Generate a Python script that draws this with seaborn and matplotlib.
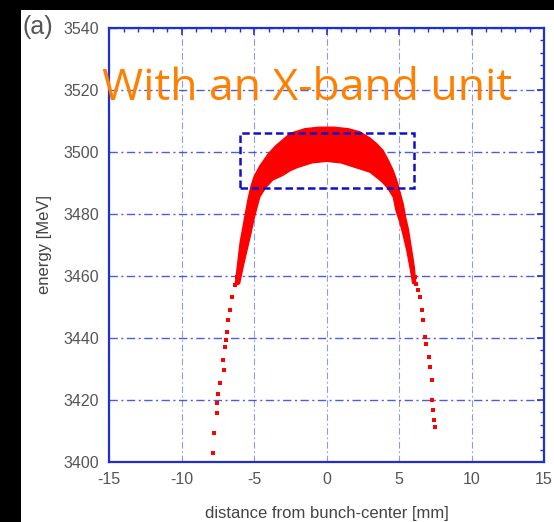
import numpy as np
import matplotlib
matplotlib.use("Agg")
import matplotlib.pyplot as plt
import seaborn as sns
import pandas as pd
from matplotlib.patches import Rectangle

# dense core of the bunch (outline), outer edge left -> right
core_outer_x = [-6.30, -6.15, -6.05, -5.95, -5.75, -5.60, -5.40, -5.20, -5.00, -4.60, -4.00, -3.50,
                -2.50, -1.50, -0.50, 0.50, 1.50, 2.30, 3.00, 3.50, 3.90, 4.30, 4.60, 4.90, 5.10,
                5.30, 5.45, 5.65, 5.85, 6.05, 6.15]
core_outer_e = [3457, 3463, 3467, 3471, 3476, 3480, 3485, 3489, 3492, 3495.5, 3499.5, 3502,
                3506, 3507.5, 3508, 3508, 3507.5, 3506.5, 3504.5, 3502.5, 3500.5, 3497, 3494, 3490, 3486.5,
                3483, 3479, 3475, 3469, 3463, 3458]
# inner edge right -> left
core_inner_x = [5.95, 5.75, 5.55, 5.30, 5.05, 4.80, 4.60, 4.20, 3.80, 3.00, 2.00, 1.00, 0.00,
                -1.00, -2.00, -2.50, -3.00, -3.70, -4.20, -4.60, -4.80, -5.00, -5.20, -5.45, -5.70, -6.00]
core_inner_e = [3457.5, 3463, 3468, 3473, 3477.5, 3481, 3485.5, 3488.5, 3490.5, 3493.5, 3495, 3496.5, 3497,
                3496.5, 3495, 3494, 3492.5, 3491, 3488.5, 3485.5, 3482, 3478.5, 3474, 3469, 3464, 3457.5]

# sparse tail particles
left_tail_x = [-6.19, -6.30, -6.54, -6.66, -6.77, -6.85, -6.93, -7.00, -7.12, -7.05, -7.34, -7.45,
               -7.57, -7.53, -7.76, -7.84]
left_tail_e = [3459.8, 3457.0, 3453.3, 3449.0, 3445.8, 3442.0, 3439.4, 3437.0, 3432.9, 3429.7, 3425.5, 3422.0,
               3419.0, 3415.8, 3409.4, 3402.9]
right_tail_x = [6.10, 6.20, 6.33, 6.45, 6.57, 6.68, 6.79, 6.85, 7.09, 7.14, 7.26, 7.26, 7.37, 7.40, 7.48]
right_tail_e = [3459.8, 3457.5, 3455.5, 3453.3, 3449.0, 3445.8, 3440.4, 3438.0, 3434.0, 3430.7, 3426.5,
                3420.0, 3416.8, 3413.5, 3411.4]

# dashed selection box
box_x = [-6.0, 6.0]
box_e = [3488.5, 3506.0]

x_ticks = [-15, -10, -5, 0, 5, 10, 15]
y_ticks = [3400, 3420, 3440, 3460, 3480, 3500, 3520, 3540]

sns.set_style("white")
plt.rcParams['font.family'] = ['Liberation Sans', 'DejaVu Sans']
plt.rcParams['axes.unicode_minus'] = False

fig = plt.figure(figsize=(5.54, 5.22), dpi=100, facecolor="black")
# white panel on the black backdrop
fig.patches.append(Rectangle((21 / 554, 0), 1 - 21 / 554, 1 - 10 / 522, transform=fig.transFigure,
                             facecolor="white", edgecolor="none", zorder=-1))
ax = fig.add_axes([109 / 554, 1 - 462 / 522, 435 / 554, 434 / 522])
ax.set_facecolor("white")

blue = "#1f2fd8"
ax.grid(True, which="major", axis="y", color="#2233dd", linestyle=(0, (6, 2.5, 1.5, 2.5)),
        linewidth=1.0, alpha=0.8)
ax.grid(True, which="major", axis="x", color="#4455dd", linestyle=(0, (6, 2.5, 1.5, 2.5)),
        linewidth=0.8, alpha=0.6)
ax.set_axisbelow(True)

ax.fill(core_outer_x + core_inner_x, core_outer_e + core_inner_e, color="red", edgecolor="red",
        linewidth=1.0, zorder=3)
tails = pd.DataFrame({"x": left_tail_x + right_tail_x, "e": left_tail_e + right_tail_e})
sns.scatterplot(data=tails, x="x", y="e", ax=ax, color="red", marker="s", s=6, linewidth=0, zorder=3)

ax.add_patch(Rectangle((box_x[0], box_e[0]), box_x[1] - box_x[0], box_e[1] - box_e[0], fill=False,
                       edgecolor="#1010c8", linestyle=(0, (3, 1.5)), linewidth=1.8, zorder=4))

ax.set_xlim(-15, 15)
ax.set_ylim(3400, 3540)
ax.set_xticks(x_ticks)
ax.set_yticks(y_ticks)
ax.set_xticks(np.arange(-15, 16, 1), minor=True)
ax.set_yticks(np.arange(3400, 3541, 4), minor=True)
ax.tick_params(which="both", direction="in", top=True, right=True, color=blue, labelcolor="#555555",
               labelsize=11.5, pad=7)
ax.tick_params(which="major", length=5, width=1.2)
ax.tick_params(which="minor", length=3, width=1.0)
ax.set_yticklabels([str(v) for v in y_ticks])
for s in ax.spines.values():
    s.set_color(blue)
    s.set_linewidth(1.6)

ax.set_xlabel("distance from bunch-center [mm]", color="#444444", fontsize=12, labelpad=14)
ax.set_ylabel("energy [MeV]", color="#444444", fontsize=12, labelpad=8)

fig.text(22 / 554, 1 - 27 / 522, "(a)", color="#555555", fontsize=18, va="center", ha="left")
ax.text(-15.45, 3516.8, "With an X-band unit", color="#ff8000", fontsize=32,
        fontfamily="Open Sans", va="baseline", ha="left", zorder=5)

fig.savefig("out.png", dpi=100, facecolor=fig.get_facecolor())
